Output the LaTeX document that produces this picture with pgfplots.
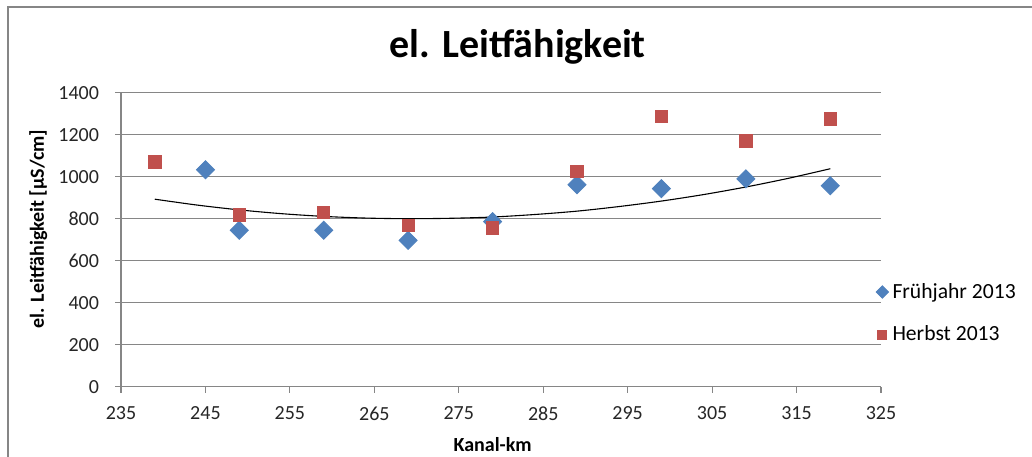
\documentclass[border=0pt]{standalone}
\usepackage{fontspec}
\setmainfont{Carlito}
\usepackage{pgfplots}
\pgfplotsset{compat=1.18}
\definecolor{fblue}{HTML}{4F81BD}
\definecolor{hred}{HTML}{C0504D}
\definecolor{gridc}{HTML}{868686}

\begin{document}
\begin{tikzpicture}
\useasboundingbox (0pt,0pt) rectangle (516pt,228pt);
\fill[white] (0pt,0pt) rectangle (516pt,228pt);
\draw[color=gridc, line width=1pt] (4pt,-1pt) -- (4pt,224.25pt) -- (517pt,224.25pt);
\begin{axis}[
  at={(60.5pt,34.65pt)}, anchor=south west,
  scale only axis, width=380pt, height=147pt,
  xmin=235, xmax=325, ymin=0, ymax=1400,
  xtick={235,245,...,325}, ytick={0,200,...,1400},
  axis lines*=left,
  axis line style={gridc, line width=0.6pt},
  tick style={gridc, line width=0.6pt},
  tick align=outside, major tick length=3pt,
  ymajorgrids, grid style={gridc, line width=0.6pt},
  /pgf/number format/assume math mode=true,
  /pgf/number format/1000 sep={},
  tick label style={font=\fontsize{10}{12}\selectfont, text=black!85},
  yticklabel style={xshift=-4.5pt},
  xticklabel style={yshift=-3.5pt},
  title={el. Leitfähigkeit},
  every axis title shift=0pt,
  title style={font=\bfseries\fontsize{20}{24}\selectfont, at={(axis description cs:0.522,1.155)}, anchor=center, yshift=0pt},
  xlabel={Kanal-km},
  xlabel style={font=\bfseries\fontsize{10}{12}\selectfont, at={(axis description cs:0.489,-0.198)}, anchor=center},
  ylabel={el. Leitfähigkeit [µS/cm]},
  ylabel style={font=\bfseries\fontsize{10}{12}\selectfont, at={(axis description cs:-0.109,0.536)}, anchor=center},
  clip=false,
  legend style={draw=none, fill=none, at={(axis description cs:0.993,0.249)}, anchor=west,
    font=\fontsize{10.8}{13}\selectfont, row sep=8.5pt, inner sep=0pt},
  legend cell align=left,
  legend image code/.code={\draw[mark size=2.2pt] plot coordinates {(0.14cm,0cm)};},
]
\addplot[sharp plot, black, line width=0.55pt, forget plot, smooth] coordinates {
(239,893) (244,865) (249,842) (254,824) (259,811) (264,803) (269,800) (274,802)
(279,808) (284,820) (289,836) (294,858) (299,884) (304,915) (309,951) (314,992) (319,1038)};
\addplot[only marks, mark=square*, mark size=3.2pt, mark options={rotate=45, fill=fblue, draw=fblue}] coordinates {
(245,1033) (249,745) (259,745) (269,697) (279,786) (289,962) (299,943) (309,990) (319,957)};
\addlegendentry{Frühjahr 2013}
\addplot[only marks, mark=square*, mark size=3.1pt, mark options={fill=hred, draw=hred}] coordinates {
(239,1071) (249,819) (259,829) (269,767) (279,757) (289,1024) (299,1286) (309,1171) (319,1276)};
\addlegendentry{Herbst 2013}
\end{axis}
\end{tikzpicture}
\end{document}
